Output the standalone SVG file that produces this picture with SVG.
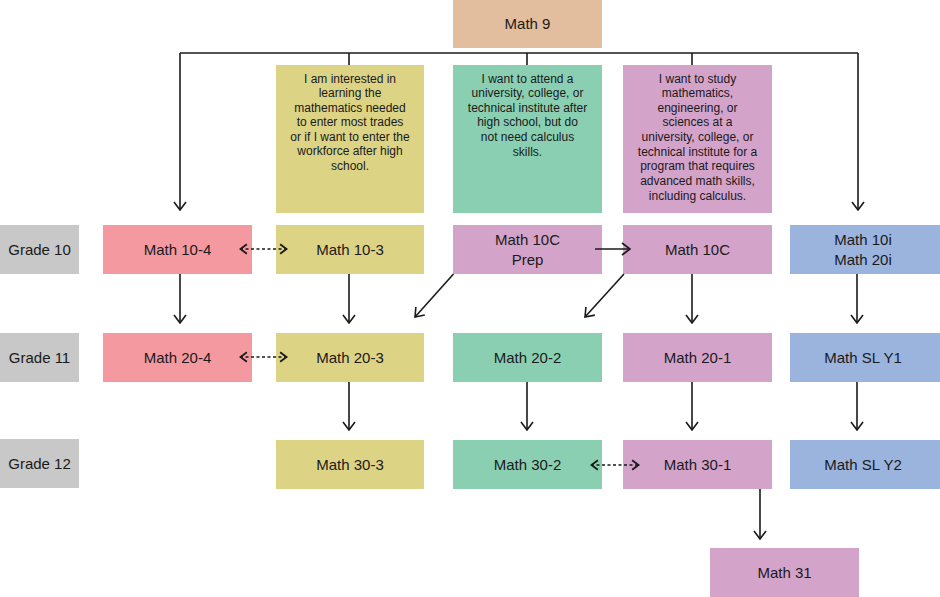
<svg xmlns="http://www.w3.org/2000/svg" width="940" height="597" viewBox="0 0 940 597">
<defs>
<marker id="ah" viewBox="0 0 10 14" refX="9" refY="7" markerWidth="10" markerHeight="14" markerUnits="userSpaceOnUse" orient="auto-start-reverse">
<path d="M1,1 L9,7 L1,13" fill="none" stroke="#1a1a1a" stroke-width="1.6"/>
</marker>
<marker id="ahd" viewBox="0 0 10 14" refX="9" refY="7" markerWidth="9" markerHeight="12" markerUnits="userSpaceOnUse" orient="auto-start-reverse">
<path d="M1,1.5 L8.5,7 L1,12.5" fill="none" stroke="#1a1a1a" stroke-width="2.2"/>
</marker>
</defs>
<style>
text{font-family:"Liberation Sans",Arial,sans-serif;fill:#1a1a1a;text-anchor:middle}
.n{font-size:15px}
.d{font-size:12px}
.c line,.c polyline{stroke:#1a1a1a;stroke-width:1.6;fill:none}
.c .s{marker-end:url(#ah)}
.c .dd{stroke-dasharray:3,2.5;marker-start:url(#ahd);marker-end:url(#ahd)}
.g{fill:#c8c8c8}.p{fill:#f4999f}.y{fill:#ddd385}.gr{fill:#8acfb2}.pu{fill:#d4a3ca}.b{fill:#9ab4de}.m9{fill:#e2be9e}
</style>
<rect width="940" height="597" fill="#fff"/>
<g id="math9"><rect class="m9" x="453" y="0" width="149" height="48"/><text class="n" x="527.5" y="29">Math 9</text></g>
<g id="desc-trades"><rect class="y" x="276" y="65" width="148" height="148"/>
<text class="d"><tspan x="350" y="82.5">I am interested in</tspan><tspan x="350" y="97">learning the</tspan><tspan x="350" y="111.5">mathematics needed</tspan><tspan x="350" y="126">to enter most trades</tspan><tspan x="350" y="140.5">or if I want to enter the</tspan><tspan x="350" y="155">workforce after high</tspan><tspan x="350" y="170">school.</tspan></text></g>
<g id="desc-nocalc"><rect class="gr" x="453" y="65" width="149" height="148"/>
<text class="d"><tspan x="527.5" y="82.5">I want to attend a</tspan><tspan x="527.5" y="97">university, college, or</tspan><tspan x="527.5" y="111.5">technical institute after</tspan><tspan x="527.5" y="126">high school, but do</tspan><tspan x="527.5" y="140.5">not need calculus</tspan><tspan x="527.5" y="155.5">skills.</tspan></text></g>
<g id="desc-calc"><rect class="pu" x="623" y="65" width="149" height="148"/>
<text class="d"><tspan x="697.5" y="82.5">I want to study</tspan><tspan x="697.5" y="97">mathematics,</tspan><tspan x="697.5" y="111.5">engineering, or</tspan><tspan x="697.5" y="126">sciences at a</tspan><tspan x="697.5" y="141">university, college, or</tspan><tspan x="697.5" y="155.5">technical institute for a</tspan><tspan x="697.5" y="170">program that requires</tspan><tspan x="697.5" y="185">advanced math skills,</tspan><tspan x="697.5" y="200">including calculus.</tspan></text></g>
<g id="grade10"><rect class="g" x="0" y="225" width="79" height="49"/><text class="n" x="39.5" y="255">Grade 10</text></g>
<g id="grade11"><rect class="g" x="0" y="333" width="79" height="49"/><text class="n" x="39.5" y="363">Grade 11</text></g>
<g id="grade12"><rect class="g" x="0" y="439" width="79" height="49"/><text class="n" x="39.5" y="469">Grade 12</text></g>
<g id="m10-4"><rect class="p" x="103" y="225" width="149" height="49"/><text class="n" x="177.5" y="255">Math 10-4</text></g>
<g id="m10-3"><rect class="y" x="276" y="225" width="148" height="49"/><text class="n" x="350" y="255">Math 10-3</text></g>
<g id="m10cprep"><rect class="pu" x="453" y="225" width="149" height="49"/><text class="n" x="527.5" y="245">Math 10C</text><text class="n" x="527.5" y="265">Prep</text></g>
<g id="m10c"><rect class="pu" x="623" y="225" width="149" height="49"/><text class="n" x="697.5" y="255">Math 10C</text></g>
<g id="m10i"><rect class="b" x="790" y="225" width="150" height="49"/><text class="n" x="863" y="245">Math 10i</text><text class="n" x="863" y="265">Math 20i</text></g>
<g id="m20-4"><rect class="p" x="103" y="333" width="149" height="49"/><text class="n" x="177.5" y="363">Math 20-4</text></g>
<g id="m20-3"><rect class="y" x="276" y="333" width="148" height="49"/><text class="n" x="350" y="363">Math 20-3</text></g>
<g id="m20-2"><rect class="gr" x="453" y="333" width="149" height="49"/><text class="n" x="527.5" y="363">Math 20-2</text></g>
<g id="m20-1"><rect class="pu" x="623" y="333" width="149" height="49"/><text class="n" x="697.5" y="363">Math 20-1</text></g>
<g id="msly1"><rect class="b" x="790" y="333" width="150" height="49"/><text class="n" x="863" y="363">Math SL Y1</text></g>
<g id="m30-3"><rect class="y" x="276" y="440" width="148" height="49"/><text class="n" x="350" y="470">Math 30-3</text></g>
<g id="m30-2"><rect class="gr" x="453" y="440" width="149" height="49"/><text class="n" x="527.5" y="470">Math 30-2</text></g>
<g id="m30-1"><rect class="pu" x="623" y="440" width="149" height="49"/><text class="n" x="697.5" y="470">Math 30-1</text></g>
<g id="msly2"><rect class="b" x="790" y="440" width="150" height="49"/><text class="n" x="863" y="470">Math SL Y2</text></g>
<g id="m31"><rect class="pu" x="710" y="548" width="149" height="49"/><text class="n" x="784.5" y="578">Math 31</text></g>
<g class="c" id="connectors">
<line x1="180" y1="53" x2="858" y2="53"/>
<line class="s" x1="180" y1="53" x2="180" y2="210"/>
<line class="s" x1="858" y1="53" x2="858" y2="210"/>
<line x1="349" y1="53" x2="349" y2="65"/>
<line x1="527" y1="53" x2="527" y2="65"/>
<line x1="692" y1="53" x2="692" y2="65"/>
<line class="s" x1="180" y1="274" x2="180" y2="323"/>
<line class="s" x1="349" y1="274" x2="349" y2="323"/>
<line class="s" x1="453.5" y1="274" x2="415" y2="317"/>
<line class="s" x1="595" y1="249" x2="630" y2="249"/>
<line class="s" x1="624" y1="274" x2="585" y2="317"/>
<line class="s" x1="692" y1="274" x2="692" y2="323"/>
<line class="s" x1="857" y1="274" x2="857" y2="323"/>
<line class="s" x1="349" y1="382" x2="349" y2="430"/>
<line class="s" x1="527" y1="382" x2="527" y2="430"/>
<line class="s" x1="692" y1="382" x2="692" y2="430"/>
<line class="s" x1="857" y1="382" x2="857" y2="430"/>
<line class="s" x1="760" y1="489" x2="760" y2="539"/>
<line class="dd" x1="240" y1="249" x2="287" y2="249"/>
<line class="dd" x1="240" y1="357" x2="287" y2="357"/>
<line class="dd" x1="591" y1="465" x2="639" y2="465"/>
</g>
</svg>
